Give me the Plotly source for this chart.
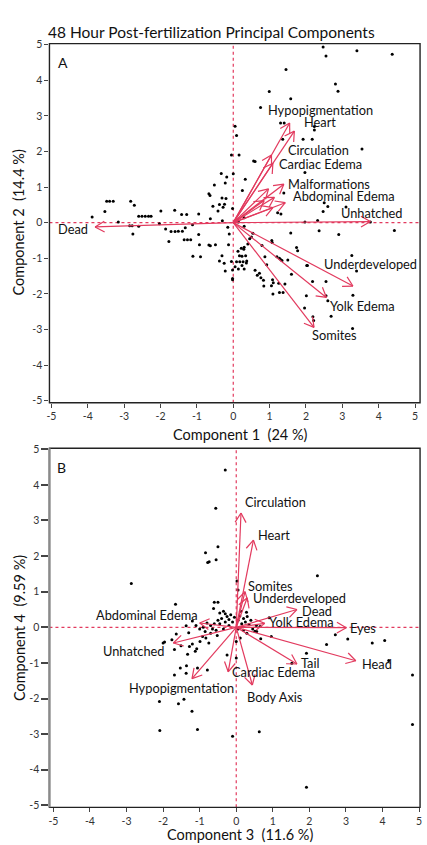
import numpy as np
import plotly.graph_objects as go

# ---------------- data ----------------
title_text = "48 Hour Post-fertilization Principal Components"

# Panel A scores (Component 1, Component 2)
pa_x = [2.47, 2.55, 3.40, 4.37, 1.45, 2.81, 2.88, 0.99, 1.58, 0.75,
        1.30, 1.40, 2.23, 2.23, 1.92, 2.17, 1.36, 3.54, 0.56, 0.60,
        1.97, 0.33, 0.05, 0.09, -0.05, 0.16, 0.00, -0.33, -0.18,
        -0.22, -0.52, -0.67, -0.64, -0.31, -0.20, -0.38, -0.24, -0.56, -0.42, -0.28, -0.02,
        0.25, 1.39, 2.50, 2.60, 2.47, 3.10, 1.31, 1.22,
        -3.88, -3.53, -3.48, -3.40, -3.30, -2.82, -2.72,
        -2.60, -2.51, -2.42, -2.33, -2.26, -1.99, -1.61, -1.42, -1.28, -0.95,
        -3.16, -2.85, -2.78, -2.76, -2.60, -2.03, -1.86, -1.77, -1.71, -1.60, -1.51, -1.40, -1.32,
        -1.35, -1.26, -1.17, -1.12, -0.95, -0.93, -1.11, -0.90, -0.67, -0.63, -0.49,
        -0.63, -0.30, -0.15, -0.11, -0.13, -0.38, -0.31, -0.25, -0.22, -0.02, -0.02, -0.02, -0.05,
        0.09, 0.18, 0.27, 0.37, 0.05, 0.14, 0.30, 0.13, 0.29, 0.30, 0.30, 0.14,
        0.40, 0.45, 0.50, 0.54, 0.66, 0.76, 0.72, 0.79, 0.87, 0.92, 0.84, 1.06,
        1.08, 1.10, 1.09, 1.20, 1.27, 1.31, 1.34, 1.37, 1.27, 1.25, 1.58, 1.50, 1.60, 1.74,
        1.97, 2.02, 2.18, 1.96, 2.01, 2.19, 2.21, 2.55, 2.55, 2.60, 2.69, 2.32, 2.36, 2.90,
        3.28, 3.29, 3.26, 3.39, 4.43, 3.77,
        0.22, 0.30, 0.17, 0.24, 0.34, 0.36, 0.24, 0.60, 0.83, 1.05, 1.42, 1.07, 1.77, 2.04]
pa_y = [4.93, 4.68, 4.83, 4.73, 4.30, 3.89, 3.69, 3.68, 3.48, 3.23,
        2.80, 2.80, 2.70, 2.60, 2.34, 2.34, 2.34, 2.07, 1.73, 1.72,
        1.41, 1.22, 2.71, 2.45, 1.90, 1.90, 1.37, 1.38, 1.28,
        1.11, 1.06, 0.81, 0.76, 0.69, 0.68, 0.51, 0.52, 0.46, 0.33, 0.43, 0.40,
        0.90, 0.83, 0.56, 0.45, 0.31, 0.44, 0.24, 0.28,
        0.16, 0.31, 0.60, 0.60, 0.60, 0.60, 0.49,
        0.18, 0.18, 0.18, 0.18, 0.18, 0.33, 0.35, 0.23, 0.23, 0.24,
        0.02, -0.09, -0.09, -0.32, -0.10, -0.03, -0.18, -0.53, -0.25, -0.25, -0.24, -0.24, -0.14,
        -0.48, -0.48, -0.48, -0.06, -0.33, -0.62, -0.94, -0.96, -0.63, -0.65, -0.62,
        0.11, 0.05, -0.13, -0.32, -0.62, -1.08, -0.93, -1.14, -1.36, -1.33, -1.57, -1.60, -1.09,
        -1.10, -1.10, -1.10, -1.08, -1.24, -1.30, -1.30, -0.80, -0.75, -0.10, 0.14, 0.02,
        -0.60, -0.45, -0.40, -0.30, -1.48, -1.55, -1.42, -0.64, -0.96, -1.18, -1.78, -0.50,
        -1.60, -1.69, -2.00, -0.96, -1.00, -1.04, -1.06, -1.96, -1.96, -1.70, -0.29, -1.05, -1.45, -0.70,
        0.02, -1.20, -1.65, -2.40, -2.05, -2.64, -2.75, -1.65, -2.05, -2.19, -2.63, 0.06, -0.23, -0.33,
        -2.97, -2.04, -0.92, -1.36, -0.22, 0.02,
        -0.72, -0.69, -0.93, -0.94, -0.93, -1.13, -1.20, -1.34, -1.62, -1.77, -1.72, -0.56, -0.79, -1.20]

# Panel A loadings (arrow tips)
la_names = ["Hypopigmentation", "Heart", "Circulation", "Cardiac Edema", "Malformations",
            "Abdominal Edema", "Unhatched", "Dead", "Underdeveloped", "Yolk Edema", "Somites",
            "Eyes", "Head", "Tail", "Body Axis"]
la_x = [1.55, 1.68, 1.05, 1.09, 1.39, 1.43, 3.77, -3.80, 3.29, 2.56, 2.22, 0.97, 1.13, 1.09, 0.85]
la_y = [2.80, 2.57, 1.90, 1.67, 1.08, 0.56, 0.03, -0.12, -1.78, -2.10, -2.94, 0.95, 0.71, 0.42, 0.62]
la_show = [True] * 11 + [False] * 4

# Panel B scores (Component 3, Component 4)
pb_x = [-0.30, -0.56, -0.50, -0.84, -0.78, -0.74, -0.55, -2.87, 2.22, 0.02, 0.05, -1.66, -0.60, -0.50, -0.62, -1.37, 0.90,
        2.71, 3.05, 2.47, 3.72, 4.06, 4.17, 4.82, 4.82, 1.92, 1.52, 0.63, -0.10, 1.92,
        -1.06, -2.09, -2.10, -1.58, -1.43, -1.21, -1.69, -1.53, -1.37, -1.06, -0.79, -1.36,
        0.00, -0.25, 0.00,
        -2.00, -1.96, -1.76, -1.69, -1.64, -1.51, -1.33, -1.28, -1.20, -1.12, -1.08, -0.99, -0.92, -0.83, -0.75, -0.70, -0.52,
        0.11, 0.29, 0.51, 0.56, 0.67, 0.96,
        -0.45, -0.35, -0.30, -0.25, -0.40, -0.50, -0.20, -0.15, -0.10, -0.05, 0.05, 0.10, 0.15, 0.20, 0.25, 0.30, 0.35, 0.40,
        -0.60, -0.70, -0.80, -0.90, -1.00, -1.10, -0.65, -0.55, -0.35, -0.20, 0.05, 0.20, 0.45, 0.55, 0.65, -0.45, -0.30,
        0.12, 0.28, -1.20, -1.30, -0.85]
pb_y = [4.42, 3.34, 2.26, 2.09, 1.82, 1.84, 1.90, 1.23, 1.45, 1.30, 1.05, 0.65, 0.70, 0.70, 0.53, 0.04, 0.27,
        -0.21, -0.33, -0.48, -0.44, -0.37, -0.93, -1.34, -2.73, -0.73, -1.01, -2.93, -3.06, -4.49,
        -2.87, -2.90, -2.08, -2.15, -2.02, -2.36, -1.34, -1.14, -1.29, -1.14, -1.20, -1.08,
        -0.86, -0.78, -0.40,
        -0.44, -0.41, -0.35, -0.62, -0.19, -0.52, -0.76, -0.54, -0.47, -0.67, -0.60, -0.40, -0.26, -0.30, -0.44, -0.17, -0.23,
        -0.30, -0.17, -0.11, -0.12, -0.32, -0.26,
        0.40, 0.45, 0.38, 0.30, 0.25, 0.20, 0.22, 0.35, 0.15, 0.28, 0.20, 0.32, 0.10, 0.25, 0.15, 0.30, 0.08, 0.20,
        0.10, 0.05, 0.12, 0.00, -0.05, 0.05, -0.05, -0.08, -0.05, 0.05, -0.05, -0.08, -0.05, 0.05, 0.02, 0.10, 0.15,
        0.45, 0.42, 0.18, -0.15, -0.12]

# Panel B loadings (arrow tips)
lb_names = ["Circulation", "Heart", "Somites", "Underdeveloped", "Dead", "Yolk Edema", "Eyes",
            "Head", "Tail", "Cardiac Edema", "Body Axis", "Hypopigmentation", "Unhatched",
            "Abdominal Edema"]
lb_x = [0.13, 0.47, 0.24, 0.30, 1.66, 0.78, 3.01, 3.27, 1.66, -0.22, 0.44, -1.21, -1.72, -1.00]
lb_y = [3.21, 2.45, 1.00, 0.83, 0.50, 0.11, -0.01, -0.94, -1.03, -1.25, -1.62, -1.44, -0.44, 0.12]

tick_vals = [-5, -4, -3, -2, -1, 0, 1, 2, 3, 4, 5]

# ---------------- layout constants / styles ----------------
W, H = 427, 845
FONT = "Lato"
RED = "#E23A5E"
dom_x = [47 / W, 422 / W]
A_dom_y = [1 - 402 / H, 1 - 39 / H]
B_dom_y = [1 - 811 / H, 1 - 448 / H]
A_xr, A_yr = [-5.054, 5.136], [-5.056, 5.028]
B_xr, B_yr = [-5.108, 5.027], [-5.056, 5.028]

# label placement: name -> (xanchor, xshift px, yshift px)
off_A = {
    "Hypopigmentation": ("left", -24, 13), "Heart": ("left", 8, 9),
    "Circulation": ("left", 15, 5), "Cardiac Edema": ("left", 4, -1),
    "Malformations": ("left", 2, 0), "Abdominal Edema": ("left", 6, 7),
    "Unhatched": ("center", 2, 9), "Dead": ("right", -5, -2),
    "Underdeveloped": ("center", 18, 22), "Yolk Edema": ("left", 2, -9),
    "Somites": ("left", -4, -8),
}
off_B = {
    "Circulation": ("left", 2, 11), "Heart": ("left", 3, 5), "Somites": ("left", 1, 6),
    "Underdeveloped": ("left", 4, 0), "Dead": ("left", 3, -2), "Yolk Edema": ("left", 2, 1),
    "Eyes": ("left", 2, 0), "Head": ("left", 4, -3), "Tail": ("left", 2, 1),
    "Cardiac Edema": ("left", 2, 0), "Body Axis": ("left", -7, -12),
    "Hypopigmentation": ("left", -65, -9), "Unhatched": ("right", -6, -8),
    "Abdominal Edema": ("right", 0, 8),
}


def px_scale(dom, rng, size):
    return (dom[1] - dom[0]) * size / (rng[1] - rng[0])


def arrow_paths(xs, ys, sx, sy, L=11.0, th=np.deg2rad(30)):
    X, Y = [], []
    for x, y in zip(xs, ys):
        X += [0, x, None]
        Y += [0, y, None]
        vx, vy = x * sx, y * sy
        n = np.hypot(vx, vy)
        ux, uy = vx / n, vy / n
        for s in (1, -1):
            c, si = np.cos(s * th), np.sin(s * th)
            rx, ry = ux * c - uy * si, ux * si + uy * c
            X += [x, x - L * rx / sx, None]
            Y += [y, y - L * ry / sy, None]
    return X, Y


fig = go.Figure()
sxA, syA = px_scale(dom_x, A_xr, W), px_scale(A_dom_y, A_yr, H)
sxB, syB = px_scale(dom_x, B_xr, W), px_scale(B_dom_y, B_yr, H)

fig.add_trace(go.Scatter(x=pa_x, y=pa_y, mode="markers", xaxis="x", yaxis="y",
                         marker=dict(color="black", size=3), hoverinfo="skip"))
ax_, ay_ = arrow_paths(la_x, la_y, sxA, syA)
fig.add_trace(go.Scatter(x=ax_, y=ay_, mode="lines", xaxis="x", yaxis="y",
                         line=dict(color=RED, width=1.2), hoverinfo="skip"))
fig.add_trace(go.Scatter(x=pb_x, y=pb_y, mode="markers", xaxis="x2", yaxis="y2",
                         marker=dict(color="black", size=3), hoverinfo="skip"))
bx_, by_ = arrow_paths(lb_x, lb_y, sxB, syB)
fig.add_trace(go.Scatter(x=bx_, y=by_, mode="lines", xaxis="x2", yaxis="y2",
                         line=dict(color=RED, width=1.2), hoverinfo="skip"))

LBL = 12.8
ann = []
for n, x, y, show in zip(la_names, la_x, la_y, la_show):
    if show:
        a, xs, ys = off_A[n]
        ann.append(dict(x=x, y=y, xref="x", yref="y", text=n, showarrow=False,
                        xanchor=a, yanchor="middle", xshift=xs, yshift=ys,
                        font=dict(family=FONT, size=LBL, color="#111")))
for n, x, y in zip(lb_names, lb_x, lb_y):
    a, xs, ys = off_B[n]
    ann.append(dict(x=x, y=y, xref="x2", yref="y2", text=n, showarrow=False,
                    xanchor=a, yanchor="middle", xshift=xs, yshift=ys,
                    font=dict(family=FONT, size=LBL, color="#111")))


def paper(text, px, py, size, anchor="center", angle=0):
    return dict(x=px / W, y=1 - py / H, xref="paper", yref="paper", text=text,
                showarrow=False, xanchor=anchor, yanchor="middle", textangle=angle,
                font=dict(family=FONT, size=size, color="#111"))


ann += [
    paper(title_text, 44, 27, 15.5, "left"),
    paper("A", 61, 58, 14), paper("B", 59, 467, 14),
    paper("Component 1  (24 %)", 240, 434, 14.5),
    paper("Component 3  (11.6 %)", 240, 838, 14.5),
    paper("Component 2  (14.4 %)", 16, 220, 14.5, angle=-90),
    paper("Component 4  (9.59 %)", 16, 630, 14.5, angle=-90),
]

shapes = []
for xr_, yr_ in (("x", "y"), ("x2", "y2")):
    shapes.append(dict(type="line", xref=xr_, yref=yr_ + " domain", x0=0, x1=0, y0=0, y1=1,
                       line=dict(color=RED, width=1.2, dash="dot"), layer="below"))
    shapes.append(dict(type="line", xref=xr_ + " domain", yref=yr_, x0=0, x1=1, y0=0, y1=0,
                       line=dict(color=RED, width=1.2, dash="dot"), layer="below"))
    shapes.append(dict(type="rect", xref=xr_ + " domain", yref=yr_ + " domain", x0=0, x1=1, y0=0, y1=1,
                       line=dict(color="#222", width=1.4), layer="above"))
shapes.append(dict(type="line", xref="x2 domain", yref="y2 domain", x0=0, x1=0, y0=0, y1=1,
                   line=dict(color="#8a8a8a", width=2.2), layer="above"))

tickfont = dict(family=FONT, size=10.5, color="#333")
axis_common = dict(tickmode="array", tickvals=tick_vals, ticktext=[str(v) for v in tick_vals],
                   showgrid=False, zeroline=False, showline=False, ticks="outside",
                   ticklen=4, tickwidth=1, tickcolor="#444", tickfont=tickfont, fixedrange=True)

fig.update_layout(
    width=W, height=H, autosize=False, margin=dict(l=0, r=0, t=0, b=0),
    paper_bgcolor="white", plot_bgcolor="white", showlegend=False,
    xaxis=dict(domain=dom_x, range=A_xr, anchor="y", **axis_common),
    yaxis=dict(domain=A_dom_y, range=A_yr, anchor="x", **axis_common),
    xaxis2=dict(domain=dom_x, range=B_xr, anchor="y2", **axis_common),
    yaxis2=dict(domain=B_dom_y, range=B_yr, anchor="x2", **{**axis_common, "ticklen": 7, "tickwidth": 2}),
    annotations=ann, shapes=shapes,
)

fig.write_html("out.html")
